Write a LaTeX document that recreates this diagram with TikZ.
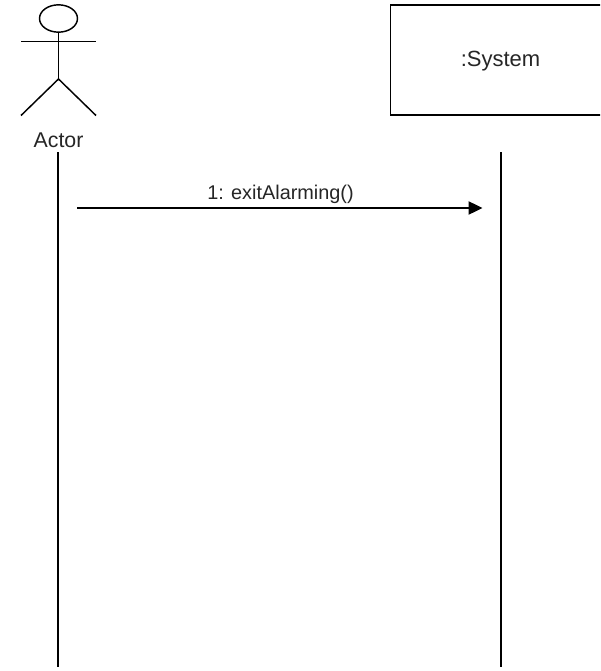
\documentclass[tikz,border=0pt]{standalone}
\usepackage{fontspec}
\setmainfont{Liberation Sans}
\usetikzlibrary{arrows.meta,shapes.geometric}
\tikzset{
  px/.style={x=0.75pt,y=-0.75pt},
  lineink/.style={draw=black,line width=1.1pt},
  thinink/.style={draw=black,line width=0.9pt},
  lbl/.style={font=\fontsize{16pt}{18pt}\selectfont,text=black!85,inner sep=0pt},
  lblsmall/.style={font=\fontsize{14.9pt}{17pt}\selectfont,text=black!85,inner sep=0pt},
  objbox/.style={lineink,fill=white,minimum width=165pt,minimum height=82.5pt,inner sep=0pt,font=\fontsize{16.5pt}{18pt}\selectfont,text=black!85},
  msg/.style={thinink,-{Triangle[length=10.5pt,width=10pt]}}
}
\begin{document}
\begin{tikzpicture}[px]
\useasboundingbox (0,0) rectangle (600,671);
\clip (0,0) rectangle (600,671);
\fill[white] (0,0) rectangle (600,671);
% actor
\node[lineink,ellipse,minimum width=28.5pt,minimum height=20.5pt,inner sep=0pt] (head) at (58.5,18.5) {};
\coordinate (armL) at (21,41.5);
\coordinate (armR) at (96,41.5);
\coordinate (hip) at (58.5,79);
\coordinate (legL) at (21,115.5);
\coordinate (legR) at (96,115.5);
\draw[lineink] (head.south) -- (hip);
\draw[lineink] (armL) -- (armR);
\draw[lineink] (legL) -- (hip) -- (legR);
\node[lbl] (actor) at (58.5,140) {Actor};
% system
\node[objbox] (system) at (500.5,60) {\raisebox{-5.25pt}[0pt][0pt]{:System}};
% lifelines
\coordinate (aTop) at (58,152);
\coordinate (aBot) at (58,667);
\coordinate (sTop) at (501,152);
\coordinate (sBot) at (501,667);
\draw[thinink] (aTop) -- (aBot);
\draw[thinink] (sTop) -- (sBot);
% message
\coordinate (mStart) at (77,208);
\coordinate (mEnd) at (482.5,208);
\draw[msg] (mStart) -- (mEnd);
\node[lblsmall] (msgtext) at (280.5,194.5) {1: exitAlarming()};
\end{tikzpicture}
\end{document}
